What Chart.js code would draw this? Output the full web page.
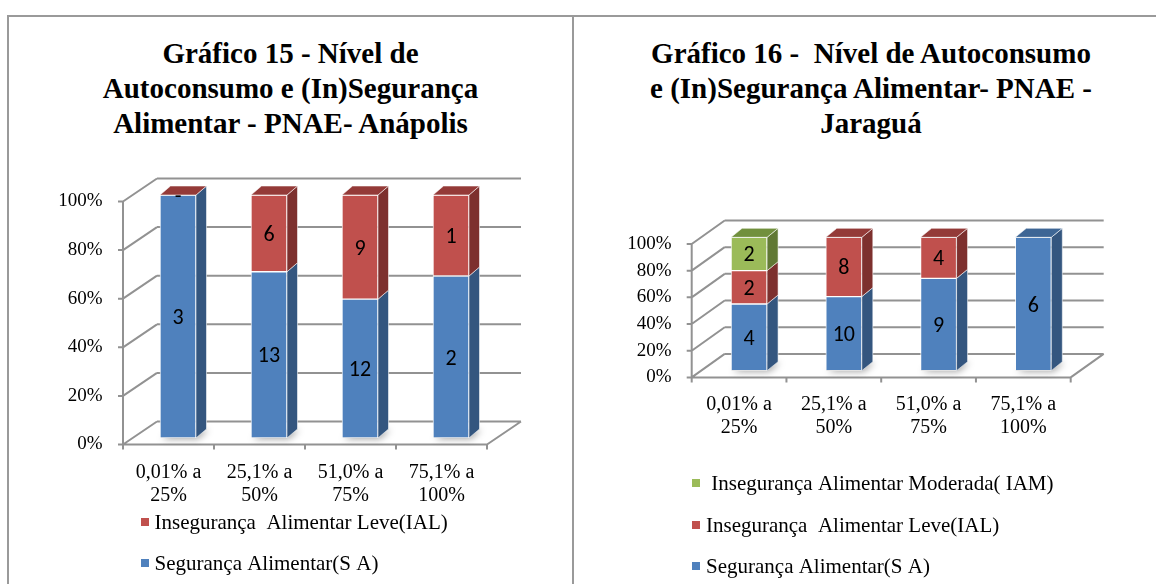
<!DOCTYPE html>
<html><head><meta charset="utf-8">
<script src="https://cdn.jsdelivr.net/npm/chart.js@4.4.1/dist/chart.umd.min.js"></script>
<style>
html,body{margin:0;padding:0;background:#fff;}
body{width:1156px;height:584px;overflow:hidden;position:relative;}
.frame{position:absolute;left:7px;top:15px;width:1300px;height:700px;border-left:2px solid #9a9a9a;border-top:2px solid #9a9a9a;}
.divider{position:absolute;left:572px;top:15px;width:2px;height:700px;background:#9a9a9a;}
.title{position:absolute;top:36px;font-family:'Liberation Serif';font-weight:bold;font-size:29px;line-height:35px;color:#000;text-align:center;white-space:pre;}
canvas{position:absolute;top:0;}
</style></head>
<body>
<div class="frame"></div><div class="divider"></div>
<div class="title" id="t1" style="left:8px;width:565px"></div>
<div class="title" id="t2" style="left:575px;width:592px"></div>
<canvas id="c1" width="575" height="584" style="left:0"></canvas>
<canvas id="c2" width="581" height="584" style="left:575px"></canvas>
<script>
// ---- data ----
const categories = [['0,01% a','25%'],['25,1% a','50%'],['51,0% a','75%'],['75,1% a','100%']];
const yTickLabels = ['0%','20%','40%','60%','80%','100%'];
const anapolisSA  = [3, 13, 12, 2];
const anapolisIAL = [0, 6, 9, 1];
const jaraguaSA   = [4, 10, 9, 6];
const jaraguaIAL  = [2, 8, 4, null];
const jaraguaIAM  = [2, null, null, null];
const titleAnapolis = ['Gráfico 15 - Nível de','Autoconsumo e (In)Segurança','Alimentar - PNAE- Anápolis'];
const titleJaragua  = ['Gráfico 16 -  Nível de Autoconsumo','e (In)Segurança Alimentar- PNAE -','Jaraguá'];
const labelSA  = 'Segurança Alimentar(S A)';
const labelIAL = 'Insegurança  Alimentar Leve(IAL)';
const labelIAM = ' Insegurança Alimentar Moderada( IAM)';

document.getElementById('t1').textContent = titleAnapolis.join('\n');
document.getElementById('t2').textContent = titleJaragua.join('\n');

const SERIF = "'Liberation Serif'";
const SANS = "Carlito";
const COL = {
  SA:  {front:'#4F81BD', side:'#34567F', top:'#3E6695'},
  IAL: {front:'#C0504D', side:'#7D302E', top:'#943A38'},
  IAM: {front:'#9BBB59', side:'#617934', top:'#71903D'}
};

function shares(series, all){
  return series.map((v,i)=>{
    if (v === null) return null;
    const tot = all.reduce((s,a)=>s+(a[i]||0),0);
    return v/tot*100;
  });
}
function ds(label, series, all, c){
  return {label, data: shares(series, all), counts: series,
    backgroundColor:c.front, sideColor:c.side, topColor:c.top,
    borderColor:'rgba(255,255,255,0.8)', borderWidth:1, borderSkipped:false,
    barThickness:36};
}

const threeD = {
  id:'threeD',
  beforeDatasetsDraw(chart, args, g){
    const {ctx, chartArea:a, scales:{x,y}} = chart;
    const fx0 = a.left + g.fdx, fx1 = a.right + g.fdx;
    const yF = v => y.getPixelForValue(v) + g.fdy;
    ctx.save();
    ctx.strokeStyle = '#929292'; ctx.lineWidth = 2; ctx.lineCap='butt';
    ctx.beginPath();
    y.ticks.forEach(t=>{
      const yy = yF(t.value);
      ctx.moveTo(fx0+g.wdx, yy+g.wdy); ctx.lineTo(fx1+g.wdx, yy+g.wdy);
      ctx.moveTo(fx0, yy); ctx.lineTo(fx0+g.wdx, yy+g.wdy);
      ctx.moveTo(fx0-5, yy); ctx.lineTo(fx0, yy);
    });
    ctx.moveTo(fx0, yF(0)); ctx.lineTo(fx0, yF(100));
    ctx.moveTo(fx0, yF(0)); ctx.lineTo(fx1, yF(0));
    ctx.moveTo(fx1, yF(0)); ctx.lineTo(fx1+g.wdx, yF(0)+g.wdy);
    const n = chart.data.labels.length;
    for (let i=0;i<=n;i++){
      const xb = fx0 + i*(fx1-fx0)/n;
      ctx.moveTo(xb, yF(0)); ctx.lineTo(xb, yF(0)+5);
    }
    ctx.stroke();
    const meta0 = chart.getDatasetMeta(0);
    meta0.data.forEach(el=>{
      const L = el.x - el.width/2, R = el.x + el.width/2, b = el.base;
      ctx.save();
      ctx.shadowColor = 'rgba(0,0,0,0.35)'; ctx.shadowBlur = 7; ctx.shadowOffsetX = 2; ctx.shadowOffsetY = 1;
      ctx.fillStyle = '#b0b0b0';
      ctx.beginPath();
      ctx.moveTo(L, b); ctx.lineTo(R, b); ctx.lineTo(R+g.bdx, b+g.bdy); ctx.lineTo(L+g.bdx, b+g.bdy);
      ctx.closePath(); ctx.fill();
      ctx.restore();
    });
    ctx.restore();
  },
  afterDatasetsDraw(chart, args, g){
    const {ctx} = chart;
    const dsets = chart.data.datasets;
    const n = chart.data.labels.length;
    ctx.save();
    ctx.strokeStyle = 'rgba(255,255,255,0.55)'; ctx.lineWidth = 1; ctx.lineJoin='round';
    for (let i=0;i<n;i++){
      let topIdx = -1;
      dsets.forEach((d,di)=>{
        if (d.data[i] === null) return;
        const el = chart.getDatasetMeta(di).data[i];
        const R = el.x + el.width/2;
        const yt = Math.min(el.y, el.base), yb = Math.max(el.y, el.base);
        if (yb - yt > 0.5){
          ctx.fillStyle = d.sideColor;
          ctx.beginPath();
          ctx.moveTo(R, yt); ctx.lineTo(R+g.bdx, yt+g.bdy); ctx.lineTo(R+g.bdx, yb+g.bdy); ctx.lineTo(R, yb);
          ctx.closePath(); ctx.fill(); ctx.stroke();
        }
        topIdx = di;
      });
      if (topIdx >= 0){
        const d = dsets[topIdx];
        const el = chart.getDatasetMeta(topIdx).data[i];
        const L = el.x - el.width/2, R = el.x + el.width/2;
        const yt = Math.min(el.y, el.base);
        ctx.fillStyle = d.topColor;
        ctx.beginPath();
        ctx.moveTo(L, yt); ctx.lineTo(L+g.bdx, yt+g.bdy); ctx.lineTo(R+g.bdx, yt+g.bdy); ctx.lineTo(R, yt);
        ctx.closePath(); ctx.fill(); ctx.stroke();
      }
    }
    ctx.fillStyle = '#000'; ctx.font = `22px ${SANS}`;
    ctx.textAlign = 'center'; ctx.textBaseline = 'middle';
    dsets.forEach((d,di)=>{
      chart.getDatasetMeta(di).data.forEach((el,i)=>{
        const v = d.counts[i];
        if (v === null || v === undefined) return;
        const txt = v === 0 ? '-' : String(v);
        ctx.fillText(txt, el.x, (el.y + el.base)/2 + 2);
      });
    });
    ctx.restore();
  },
  afterDraw(chart, args, g){
    const {ctx} = chart;
    const items = chart.data.datasets.slice().reverse();
    ctx.save();
    ctx.font = `21px ${SERIF}`; ctx.textBaseline = 'middle'; ctx.textAlign = 'left';
    items.forEach((d,k)=>{
      const yy = g.legend.ys[k];
      ctx.fillStyle = d.backgroundColor;
      ctx.fillRect(g.legend.x, yy-4, 8, 8);
      ctx.fillStyle = '#000';
      ctx.fillText(d.label, g.legend.textX, yy+1);
    });
    ctx.restore();
  }
};

function makeChart(id, datasets, g){
  return new Chart(document.getElementById(id), {
    type:'bar',
    data:{labels:categories, datasets},
    options:{
      responsive:false, animation:false, devicePixelRatio:1,
      layout:{padding:{left:0, top:g.top, right:g.right, bottom:0}},
      plugins:{legend:{display:false}, title:{display:false}, tooltip:{enabled:false}, threeD:g},
      scales:{
        x:{stacked:true, offset:true, grid:{display:false, drawTicks:false}, border:{display:false},
           ticks:{color:'#000', font:{family:SERIF, size:20, lineHeight:1.15}, padding:23,
                  labelOffset:g.fdx, maxRotation:0, minRotation:0, autoSkip:false},
           afterFit(s){ s.height = g.xHeight; }},
        y:{stacked:true, min:0, max:100, grid:{display:false, drawTicks:false}, border:{display:false},
           ticks:{stepSize:20, color:'#000', font:{family:SERIF, size:19}, padding:30,
                  labelOffset:g.fdy, callback:(v,i)=>yTickLabels[i]},
           afterFit(s){ s.width = g.yWidth; }}
      }
    },
    plugins:[threeD]
  });
}

const allA = [anapolisSA, anapolisIAL];
makeChart('c1', [
  ds(labelSA, anapolisSA, allA, COL.SA),
  ds(labelIAL, anapolisIAL, allA, COL.IAL)
], {fdx:-9.5, fdy:6.5, wdx:34, wdy:-23, bdx:10.5, bdy:-9,
    top:195, right:78.5, yWidth:132.5, xHeight:146,
    legend:{x:141, textX:154.5, ys:[522,563]}});

const allJ = [jaraguaSA, jaraguaIAL, jaraguaIAM];
makeChart('c2', [
  ds(labelSA, jaraguaSA, allJ, COL.SA),
  ds(labelIAL, jaraguaIAL, allJ, COL.IAL),
  ds(labelIAM, jaraguaIAM, allJ, COL.IAM)
], {fdx:-10, fdy:6.7, wdx:33, wdy:-23.5, bdx:11, bdy:-9,
    top:237.3, right:75.3, yWidth:126.7, xHeight:213.3,
    legend:{x:117, textX:131, ys:[483,525,566]}});
</script>
</body></html>
